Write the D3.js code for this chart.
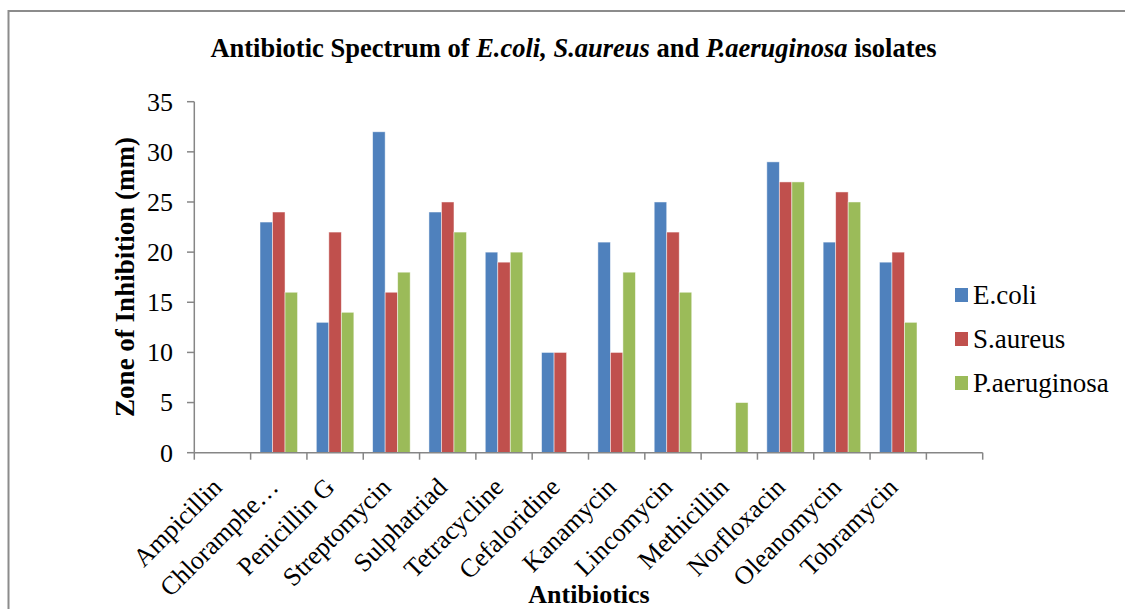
<!DOCTYPE html>
<html><head><meta charset="utf-8">
<script src="https://cdn.jsdelivr.net/npm/d3@7"></script>
<style>
html,body{margin:0;padding:0;background:#fff;}
svg{display:block;}
text{font-family:"Liberation Serif","Times New Roman","DejaVu Serif",serif;}
</style></head>
<body><svg id="chart" width="1125" height="609"></svg>
<script>
const categories = ["Ampicillin","Chloramphe\u2026","Penicillin G","Streptomycin","Sulphatriad","Tetracycline","Cefaloridine","Kanamycin","Lincomycin","Methicillin","Norfloxacin","Oleanomycin","Tobramycin",""];
const seriesNames = ["E.coli","S.aureus","P.aeruginosa"];
const ecoli     = [0,23,13,32,24,20,10,21,25,0,29,21,19,null];
const saureus   = [0,24,22,16,25,19,10,10,22,0,27,26,20,null];
const paerug    = [0,16,14,18,22,20,0,18,16,5,27,25,13,null];
const yTicks = [0,5,10,15,20,25,30,35];
const colors = ["#4F81BD","#C0504D","#9BBB59"];

const FONT = '"Liberation Serif","Times New Roman",serif';
const svg = d3.select("#chart");
const values = [ecoli, saureus, paerug];

// outer border
svg.append("rect").attr("x",8.5).attr("y",11).attr("width",1130).attr("height",620)
  .attr("fill","none").attr("stroke","#8c8c8c").attr("stroke-width",2);

const x = d3.scaleBand().domain(d3.range(categories.length)).range([194.3,982.7]).padding(0);
const bw = x.bandwidth();
const xs = d3.scaleBand().domain(d3.range(3)).range([bw/6, bw*5/6]).padding(0);
const y = d3.scaleLinear().domain([0,35]).range([452.7,101.7]);

// bars
const g = svg.append("g");
values.forEach((arr,si)=>{
  g.selectAll(null).data(arr.map((v,i)=>({v,i})).filter(d=>d.v!=null && d.v>0)).enter()
    .append("rect")
    .attr("x",d=>x(d.i)+xs(si))
    .attr("y",d=>y(d.v))
    .attr("width",xs.bandwidth())
    .attr("height",d=>y(0)-y(d.v))
    .attr("fill",colors[si])
    .attr("stroke","rgba(255,255,255,0.6)").attr("stroke-width",0.8);
});

// y axis
const axisColor = "#868686";
svg.append("line").attr("x1",194.3).attr("x2",194.3).attr("y1",y(35)).attr("y2",y(0))
  .attr("stroke",axisColor).attr("stroke-width",1.5);
svg.selectAll(".yt").data(yTicks).enter().append("line")
  .attr("x1",187).attr("x2",194.3).attr("y1",d=>y(d)).attr("y2",d=>y(d))
  .attr("stroke",axisColor).attr("stroke-width",1.5);
svg.selectAll(".yl").data(yTicks).enter().append("text")
  .attr("x",173).attr("y",d=>y(d)).attr("dy","0.34em").attr("text-anchor","end")
  .attr("font-family",FONT).attr("font-size",26).attr("fill","#000").text(d=>d);

// x axis
svg.append("line").attr("x1",194.3).attr("x2",982.7).attr("y1",y(0)).attr("y2",y(0))
  .attr("stroke",axisColor).attr("stroke-width",1.5);
const bounds = d3.range(categories.length).map(i=>x(i)).concat([x.range()[1]]);
svg.selectAll(".xt").data(bounds).enter().append("line")
  .attr("x1",d=>d).attr("x2",d=>d).attr("y1",y(0)).attr("y2",y(0)+7)
  .attr("stroke",axisColor).attr("stroke-width",1.5);
svg.selectAll(".xl").data(categories).enter().append("text")
  .attr("transform",(d,i)=>`translate(${x(i)+bw/2+1},${y(0)+36}) rotate(-45)`)
  .attr("text-anchor","end").attr("font-family",FONT).attr("font-size",26).attr("fill","#000").text(d=>d);

// titles
const title = svg.append("text").attr("x",573.5).attr("y",57).attr("text-anchor","middle")
  .attr("font-family",FONT).attr("font-size",26.5).attr("font-weight","bold").attr("fill","#000");
title.append("tspan").text("Antibiotic Spectrum of ");
title.append("tspan").attr("font-style","italic").text("E.coli, S.aureus");
title.append("tspan").text(" and ");
title.append("tspan").attr("font-style","italic").text("P.aeruginosa");
title.append("tspan").text(" isolates");

svg.append("text").attr("transform","translate(134,277) rotate(-90)").attr("text-anchor","middle")
  .attr("font-family",FONT).attr("font-size",27).attr("font-weight","bold").text("Zone of Inhibition (mm)");
svg.append("text").attr("x",589).attr("y",603).attr("text-anchor","middle")
  .attr("font-family",FONT).attr("font-size",26).attr("font-weight","bold").text("Antibiotics");

// legend
const lg = svg.append("g");
seriesNames.forEach((n,i)=>{
  const yy = 295 + i*44;
  lg.append("rect").attr("x",955).attr("y",yy-7).attr("width",13).attr("height",14).attr("fill",colors[i]);
  lg.append("text").attr("x",973).attr("y",yy).attr("dy","0.35em")
    .attr("font-family",FONT).attr("font-size",27).text(n);
});
</script></body></html>
